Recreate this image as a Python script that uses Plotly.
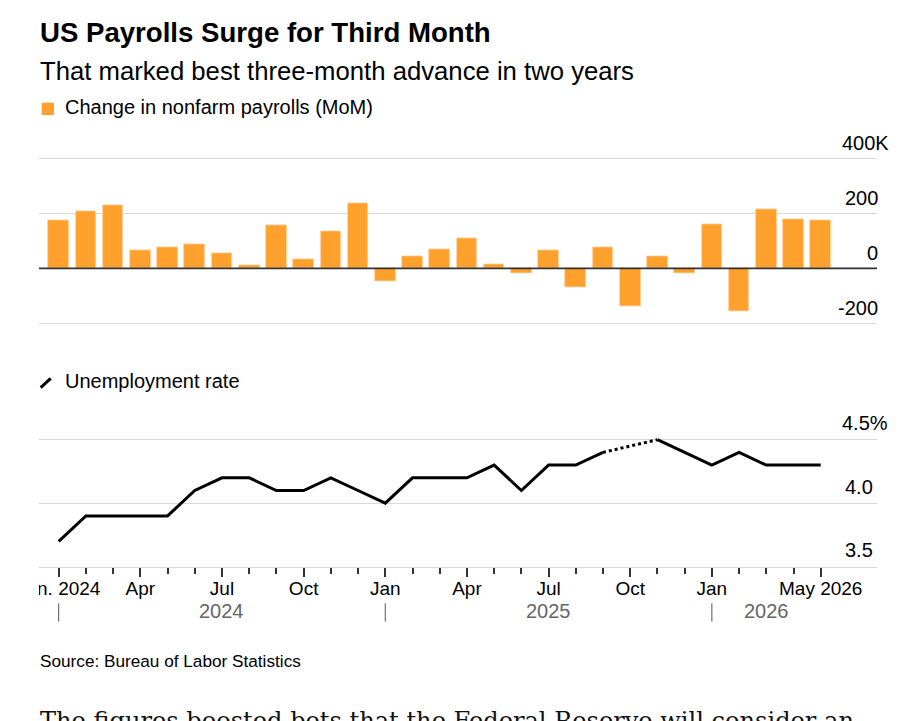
import plotly.graph_objects as go

# ---------------- data ----------------
months = ["2024-01", "2024-02", "2024-03", "2024-04", "2024-05", "2024-06",
          "2024-07", "2024-08", "2024-09", "2024-10", "2024-11", "2024-12",
          "2025-01", "2025-02", "2025-03", "2025-04", "2025-05", "2025-06",
          "2025-07", "2025-08", "2025-09", "2025-10", "2025-11", "2025-12",
          "2026-01", "2026-02", "2026-03", "2026-04", "2026-05"]

payrolls_k = [176, 206, 228, 64, 78, 86, 53, 10, 155, 33, 135, 238,
              -48, 42, 68, 108, 13, -19, 64, -69, 76, -139, 42, -17,
              159, -156, 213, 179, 173]

unemployment = [3.7, 3.9, 3.9, 3.9, 3.9, 4.1, 4.2, 4.2, 4.1, 4.1, 4.2, 4.1,
                4.0, 4.2, 4.2, 4.2, 4.3, 4.1, 4.3, 4.3, 4.4, None, 4.5, 4.4,
                4.3, 4.4, 4.3, 4.3, 4.3]

x_tick_months = ["2024-01", "2024-04", "2024-07", "2024-10", "2025-01", "2025-04",
                 "2025-07", "2025-10", "2026-01", "2026-05"]
x_tick_text = ["Jan. 2024", "Apr", "Jul", "Oct", "Jan", "Apr", "Jul", "Oct", "Jan", "May 2026"]

pay_ticks = [400, 200, 0, -200]
pay_tick_text = ["400K", "200", "0", "-200"]
rate_ticks = [4.5, 4.0, 3.5]
rate_tick_text = ["4.5%", "4.0", "3.5"]
years = ["2024", "2025", "2026"]

title = "US Payrolls Surge for Third Month"
subtitle = "That marked best three-month advance in two years"
legend_bar = "Change in nonfarm payrolls (MoM)"
legend_line = "Unemployment rate"
source = "Source: Bureau of Labor Statistics"
body_text = "The figures boosted bets that the Federal Reserve will consider an"

# ---------------- style ----------------
W, H = 924, 721
FONT = "Liberation Sans, Arial, Helvetica, sans-serif"
ORANGE = "#ffa12c"
GRID = "#d9d9d9"
DARK = "#333333"


def py(px):
    """pixel row -> paper y"""
    return 1 - px / H


xi = list(range(len(months)))
xmap = {m: i for i, m in enumerate(months)}
x_range = [-0.724, 30.068]

fig = go.Figure()

fig.add_trace(go.Bar(
    x=xi, y=payrolls_k, width=0.76,
    marker=dict(color=ORANGE, line=dict(color="#ffd3a3", width=0.8)),
    xaxis="x", yaxis="y", showlegend=False,
))

fig.add_trace(go.Scatter(
    x=xi, y=unemployment, mode="lines",
    line=dict(color="black", width=3), connectgaps=False,
    xaxis="x2", yaxis="y2", showlegend=False,
))

# dotted bridge over missing months
for i, v in enumerate(unemployment):
    if v is None:
        a = i - 1
        b = i + 1
        while b < len(unemployment) and unemployment[b] is None:
            b += 1
        fig.add_trace(go.Scatter(
            x=[xi[a], xi[b]], y=[unemployment[a], unemployment[b]], mode="lines",
            line=dict(color="black", width=3, dash="dot"),
            xaxis="x2", yaxis="y2", showlegend=False,
        ))

# top panel: 400 at px 158.3, -200 at px 323.3 ; pad so edge gridlines show
PAD = 4
k_per_px = 600 / 165.0
top_range = [-200 - PAD * k_per_px, 400 + PAD * k_per_px]
top_dom = [py(323.3 + PAD), py(158.3 - PAD)]
# bottom panel: 4.5 at px 439.7, 3.5 at px 566.7 (bottom edge = axis line)
r_per_px = 1.0 / 127.0
bot_range = [3.5, 4.5 + PAD * r_per_px]
bot_dom = [py(566.7), py(439.7 - PAD)]

fig.update_layout(
    width=W, height=H,
    margin=dict(l=39, r=47, t=0, b=0, autoexpand=False),
    paper_bgcolor="white", plot_bgcolor="white",
    font=dict(family=FONT, color="black"),
    bargap=0,
    xaxis=dict(domain=[0, 1], range=x_range, showgrid=False, zeroline=False,
               showticklabels=False, ticks="", anchor="y"),
    yaxis=dict(domain=top_dom, range=top_range, tickvals=pay_ticks,
               showticklabels=False, showgrid=True, gridcolor=GRID, gridwidth=1,
               zeroline=False, anchor="x"),
    xaxis2=dict(domain=[0, 1], range=x_range, showgrid=False, zeroline=False,
                anchor="y2", showline=True, linecolor=GRID, linewidth=1,
                tickvals=[xmap[m] for m in x_tick_months], ticktext=x_tick_text,
                ticks="outside", ticklen=9, tickwidth=1.5, tickcolor=DARK,
                ticklabelstandoff=-5,
                tickfont=dict(size=19, family=FONT, color="black"),
                minor=dict(ticks="outside", tickvals=xi, ticklen=6,
                           tickwidth=1.5, tickcolor=DARK, showgrid=False)),
    yaxis2=dict(domain=bot_dom, range=bot_range, tickvals=rate_ticks,
                showticklabels=False, showgrid=True, gridcolor=GRID, gridwidth=1,
                zeroline=False, anchor="x2"),
)

shapes = []
# zero line of the bar panel, above bars
shapes.append(dict(type="line", xref="paper", yref="y", x0=0, x1=1, y0=0, y1=0,
                   line=dict(color=DARK, width=1.8), layer="above"))
# clip the first x label at the plot's left edge
shapes.append(dict(type="rect", xref="paper", yref="paper", x0=-0.06, x1=0,
                   y0=py(598), y1=py(575), fillcolor="white", line=dict(width=0),
                   layer="above"))
# legend swatches
shapes.append(dict(type="rect", xref="paper", yref="paper",
                   x0=(41.7 - 39) / 838, x1=(54 - 39) / 838,
                   y0=py(115), y1=py(102.7), fillcolor=ORANGE, line=dict(width=0)))
shapes.append(dict(type="line", xref="paper", yref="paper",
                   x0=(40.7 - 39) / 838, x1=(50.7 - 39) / 838,
                   y0=py(387.7), y1=py(378.3), line=dict(color="black", width=3)))

annotations = []


def add_text(text, x_px, y_px, size, color="black", xanchor="left", family=FONT,
             bold=False):
    annotations.append(dict(
        text=f"<b>{text}</b>" if bold else text,
        xref="paper", yref="paper", x=(x_px - 39) / 838, y=py(y_px),
        xanchor=xanchor, yanchor="middle", showarrow=False,
        font=dict(size=size, color=color, family=family)))


add_text(title, 38, 32.5, 27.6, bold=True)
add_text(subtitle, 38, 71, 25.7)
add_text(legend_bar, 63, 107.5, 20)
add_text(legend_line, 63, 381.3, 20)
add_text(source, 38, 661, 17.2)
annotations.append(dict(text=body_text, xref="paper", yref="paper",
                        x=(38 - 39) / 838, y=py(705), xanchor="left", yanchor="top",
                        showarrow=False,
                        font=dict(size=24.1, color="#111111",
                                  family="DejaVu Serif, Liberation Serif, serif")))

# y tick labels (sit above their gridlines)
for v, t in zip(pay_ticks, pay_tick_text):
    annotations.append(dict(text=t, xref="paper", yref="y", x=1, y=v,
                            xanchor="right", yanchor="middle", yshift=15.5,
                            xshift=(14 if not t.lstrip("-").isdigit() else 3),
                            showarrow=False, font=dict(size=20, family=FONT)))
for v, t in zip(rate_ticks, rate_tick_text):
    annotations.append(dict(text=t, xref="paper", yref="y2", x=1, y=v,
                            xanchor="right", yanchor="middle", yshift=16.3,
                            xshift=(13 if t.endswith("%") else -2),
                            showarrow=False, font=dict(size=20, family=FONT)))

# year labels and separators
last = len(months) - 1
for yr in years:
    start = xmap[f"{yr}-01"]
    end = min(start + 12, last)
    annotations.append(dict(text=yr, xref="x2", yref="paper", x=(start + end) / 2,
                            y=py(611.3), xanchor="center", yanchor="middle",
                            showarrow=False,
                            font=dict(size=20, color="#666666", family=FONT)))
    shapes.append(dict(type="line", xref="x2", yref="paper", x0=start, x1=start,
                       y0=py(621.7), y1=py(603.3), line=dict(color="#555555", width=1)))

fig.update_layout(shapes=shapes, annotations=annotations)

fig.write_html("out.html")
